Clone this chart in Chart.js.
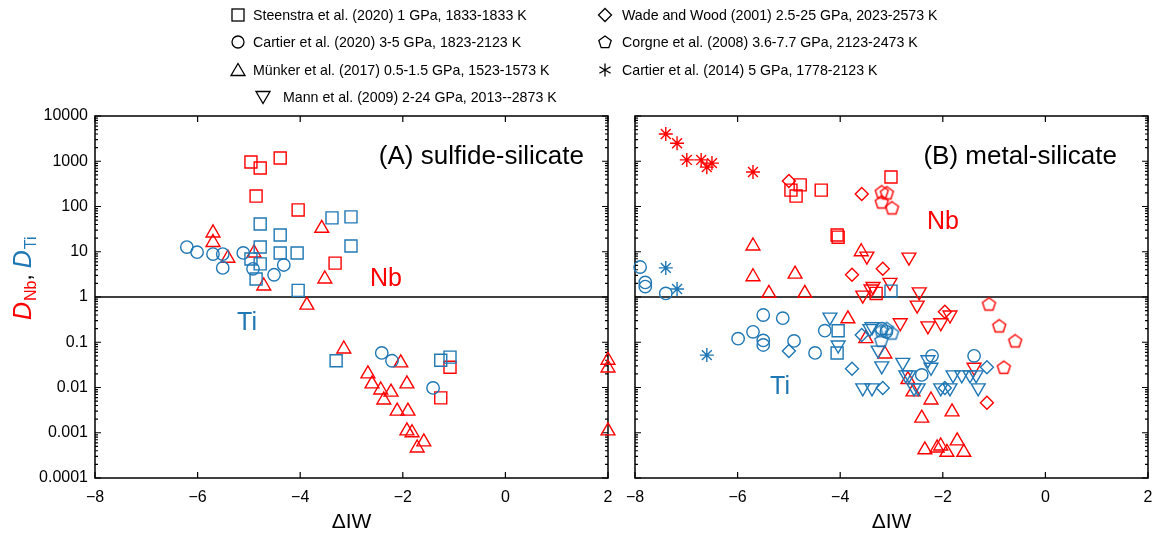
<!DOCTYPE html>
<html>
<head>
<meta charset="utf-8">
<script src="https://cdn.jsdelivr.net/npm/chart.js@4"></script>
<style>
  body { margin: 0; background: #fff; font-family: 'Liberation Sans', Arial, sans-serif; }
  #wrap { position: relative; width: 1159px; height: 540px; overflow: hidden; }
  .panel { position: absolute; top: 0; height: 540px; }
  .leg { position: absolute; font-size: 14.2px; line-height: 16px; white-space: nowrap; color: #000; }
  .legmark { position: absolute; }
</style>
</head>
<body>
<div id="wrap">
  <div class="panel" style="left:0;width:620px"><canvas id="left" width="620" height="540"></canvas></div>
  <div class="panel" style="left:620px;width:539px"><canvas id="right" width="539" height="540"></canvas></div>
  <div id="legend"></div>
</div>
<script>
// colours
const RED = '#ff0000'
const BLUE = '#1f77b4'

// axis ticks
const xTicks = [-8, -6, -4, -2, 0, 2]
const xTickLabels = ['\u22128', '\u22126', '\u22124', '\u22122', '0', '2']
const yTicks = [0.0001, 0.001, 0.01, 0.1, 1, 10, 100, 1000, 10000]
const yTickLabels = ['0.0001', '0.001', '0.01', '0.1', '1', '10', '100', '1000', '10000']

// legend
const legendLabels = [
  'Steenstra et al. (2020) 1 GPa, 1833-1833 K',
  'Cartier et al. (2020) 3-5 GPa, 1823-2123 K',
  'M\u00fcnker et al. (2017) 0.5-1.5 GPa, 1523-1573 K',
  'Mann et al. (2009) 2-24 GPa, 2013--2873 K',
  'Wade and Wood (2001) 2.5-25 GPa, 2023-2573 K',
  'Corgne et al. (2008) 3.6-7.7 GPa, 2123-2473 K',
  'Cartier et al. (2014) 5 GPa, 1778-2123 K',
]
const legendShapes = ['square', 'circle', 'triangle', 'down', 'diamond', 'pentagon', 'star']

// (A) sulfide-silicate  [ΔIW, D]
const aSteenstraNb = [[-4.96, 960], [-4.78, 710], [-4.39, 1180], [-4.86, 170], [-4.04, 84], [-3.32, 5.6], [-1.08, 0.028], [-1.26, 0.0059]]
const aSteenstraTi = [[-4.78, 41], [-4.39, 23.5], [-3.38, 56], [-3.01, 59], [-4.78, 12.7], [-4.39, 9.4], [-4.06, 9.4], [-3.01, 13.4],
  [-4.96, 6.9], [-4.78, 5.4], [-4.86, 2.5], [-4.04, 1.4], [-3.30, 0.039], [-1.26, 0.04], [-1.08, 0.047]]
const aCartierTi = [[-6.21, 12.7], [-6.01, 9.8], [-5.70, 8.9], [-5.51, 8.9], [-5.51, 4.4], [-5.11, 9.4], [-4.92, 4.2], [-4.51, 3.1],
  [-4.32, 5.1], [-2.41, 0.058], [-2.21, 0.039], [-1.41, 0.0098]]
const aMunkerNb = [[-5.70, 26], [-5.70, 16], [-5.41, 7.2], [-4.90, 9.4], [-4.71, 1.75], [-3.58, 33], [-3.52, 2.5], [-3.87, 0.66],
  [-3.15, 0.071], [-2.68, 0.020], [-2.60, 0.012], [-2.43, 0.0088], [-2.23, 0.0079], [-2.37, 0.0053], [-2.04, 0.035], [-1.92, 0.012],
  [-2.11, 0.003], [-1.90, 0.003], [-1.92, 0.0011], [-1.82, 0.001], [-1.59, 0.00063], [-1.72, 0.00046], [2.0, 0.04], [2.0, 0.027], [2.0, 0.0011]]

// (B) metal-silicate
const bCartier14Nb = [[-7.40, 4000], [-7.18, 2500], [-6.99, 1070], [-6.71, 1070], [-6.60, 740], [-6.50, 910], [-5.70, 580]]
const bCartier14Ti = [[-7.40, 4.4], [-7.18, 1.5], [-6.60, 0.052]]
const bSteenstraNb = [[-4.78, 300], [-4.96, 230], [-4.86, 170], [-4.37, 230], [-4.06, 23.5], [-4.04, 21], [-3.30, 1.2], [-3.01, 450]]
const bSteenstraTi = [[-3.01, 1.35], [-4.04, 0.18], [-4.06, 0.058]]
const bWadeNb = [[-5.0, 365], [-3.58, 190], [-3.77, 3.1], [-3.17, 4.2], [-1.96, 0.47], [-1.14, 0.0046]]
const bWadeTi = [[-5.0, 0.064], [-3.77, 0.026], [-3.58, 0.145], [-3.17, 0.0098], [-1.96, 0.0098], [-1.14, 0.028]]
const bCorgneNb = [[-3.19, 210], [-3.09, 200], [-3.19, 126], [-2.99, 93], [-1.10, 0.7], [-0.90, 0.23], [-0.59, 0.107], [-0.81, 0.028]]
const bCorgneTi = [[-3.20, 0.18], [-3.09, 0.2], [-2.99, 0.16], [-3.20, 0.11]]
const bMunkerNb = [[-5.70, 13.4], [-5.70, 2.8], [-4.88, 3.2], [-5.39, 1.2], [-4.69, 1.2], [-3.59, 10], [-3.85, 0.33], [-3.50, 0.12],
  [-3.13, 0.055], [-2.68, 0.015], [-2.58, 0.008], [-2.23, 0.0053], [-1.82, 0.0029], [-2.41, 0.0021], [-2.35, 0.00042], [-2.11, 0.00046],
  [-2.04, 0.00051], [-1.92, 0.00037], [-1.72, 0.00066], [-1.59, 0.00037]]
const bMannNb = [[-3.48, 8], [-3.56, 1.1], [-3.40, 1.5], [-3.36, 1.7], [-2.66, 7.6], [-3.03, 2.1], [-2.46, 1.3], [-2.50, 0.66],
  [-2.83, 0.27], [-2.29, 0.23], [-2.04, 0.27], [-1.86, 0.4], [-1.39, 0.028]]
const bMannTi = [[-4.2, 0.36], [-4.04, 0.087], [-3.38, 0.22], [-3.26, 0.067], [-3.19, 0.03], [-3.56, 0.0098], [-3.38, 0.0098], [-3.42, 0.2],
  [-2.78, 0.036], [-2.72, 0.019], [-2.66, 0.019], [-2.56, 0.0098], [-2.48, 0.0098], [-2.29, 0.041], [-2.23, 0.028], [-2.04, 0.0098],
  [-1.86, 0.0098], [-1.80, 0.019], [-1.63, 0.019], [-1.47, 0.019], [-1.35, 0.019], [-1.31, 0.0098]]
const bCartierTi = [[-7.90, 4.6], [-7.80, 2.1], [-7.80, 1.7], [-7.40, 1.2], [-5.5, 0.4], [-5.12, 0.34], [-5.70, 0.17], [-5.99, 0.12],
  [-5.5, 0.11], [-5.5, 0.087], [-4.90, 0.107], [-4.49, 0.058], [-4.30, 0.18], [-3.19, 0.2], [-3.10, 0.17], [-2.21, 0.05], [-1.39, 0.05], [-2.41, 0.019]]

Chart.defaults.font.family = "'Liberation Sans', Arial, sans-serif"
Chart.defaults.color = '#000'

// pentagon marker as a small canvas
function pentagon(color) {
  const c = document.createElement('canvas')
  c.width = 17
  c.height = 17
  const ctx = c.getContext('2d')
  ctx.strokeStyle = color
  ctx.lineWidth = 1.4
  ctx.beginPath()
  for (let i = 0; i < 5; i++) {
    const a = -Math.PI / 2 + i * 2 * Math.PI / 5
    const px = 8.5 + 6.8 * Math.cos(a)
    const py = 9 + 6.8 * Math.sin(a)
    i ? ctx.lineTo(px, py) : ctx.moveTo(px, py)
  }
  ctx.closePath()
  ctx.stroke()
  return c
}

const styles = {
  square: { pointStyle: 'rect', radius: 8.5 },
  circle: { pointStyle: 'circle', radius: 6.2 },
  triangle: { pointStyle: 'triangle', radius: 8 },
  down: { pointStyle: 'triangle', radius: 8, rotation: 180 },
  diamond: { pointStyle: 'rectRot', radius: 6.5 },
  star: { pointStyle: 'star', radius: 7 },
}

function ds(pairs, shape, color) {
  const s = styles[shape] || {}
  return {
    data: pairs.map((p) => ({ x: p[0], y: p[1] })),
    pointStyle: shape === 'pentagon' ? pentagon(color) : s.pointStyle,
    pointRadius: s.radius || 7,
    rotation: s.rotation || 0,
    pointBorderColor: color,
    pointBackgroundColor: 'rgba(0,0,0,0)',
    pointBorderWidth: 1.4,
    showLine: false,
    clip: false,
  }
}

// frame, inward ticks and the D = 1 line
const framePlugin = {
  id: 'frame',
  beforeDatasetsDraw(chart) {
    const { ctx, chartArea: a, scales: { x, y } } = chart
    ctx.save()
    ctx.strokeStyle = '#000'
    ctx.lineWidth = 1.5
    ctx.strokeRect(a.left, a.top, a.right - a.left, a.bottom - a.top)
    const y1 = y.getPixelForValue(1)
    ctx.beginPath()
    ctx.moveTo(a.left, y1)
    ctx.lineTo(a.right, y1)
    ctx.stroke()
    ctx.lineWidth = 1.2
    ctx.beginPath()
    xTicks.forEach((v) => {
      const px = x.getPixelForValue(v)
      ctx.moveTo(px, a.bottom)
      ctx.lineTo(px, a.bottom - 6)
      ctx.moveTo(px, a.top)
      ctx.lineTo(px, a.top + 6)
    })
    yTicks.forEach((v, i) => {
      const py = y.getPixelForValue(v)
      ctx.moveTo(a.left, py)
      ctx.lineTo(a.left + 6, py)
      ctx.moveTo(a.right, py)
      ctx.lineTo(a.right - 6, py)
      if (i < yTicks.length - 1) {
        for (let k = 2; k < 10; k++) {
          const pm = y.getPixelForValue(v * k)
          ctx.moveTo(a.left, pm)
          ctx.lineTo(a.left + 3, pm)
          ctx.moveTo(a.right, pm)
          ctx.lineTo(a.right - 3, pm)
        }
      }
    })
    ctx.stroke()
    ctx.restore()
  },
}

// panel labels, offset = canvas left on page
function labelsPlugin(offset, texts) {
  return {
    id: 'labels',
    afterDraw(chart) {
      const ctx = chart.ctx
      ctx.save()
      texts.forEach((t) => {
        ctx.font = t.font
        ctx.fillStyle = t.color
        ctx.textAlign = t.align || 'center'
        ctx.textBaseline = 'middle'
        ctx.fillText(t.text, t.x - offset, t.y)
      })
      ctx.restore()
    },
  }
}

// y title: D_Nb, D_Ti
const yTitlePlugin = {
  id: 'ytitle',
  afterDraw(chart) {
    const ctx = chart.ctx
    ctx.save()
    ctx.translate(31, 320)
    ctx.rotate(-Math.PI / 2)
    ctx.textBaseline = 'alphabetic'
    ctx.textAlign = 'left'
    let cx = 0
    const parts = [
      { t: 'D', f: "italic 25px 'Liberation Sans', Arial", c: RED, dy: 0 },
      { t: 'Nb', f: "16px 'Liberation Sans', Arial", c: RED, dy: 5 },
      { t: ', ', f: "22px 'Liberation Sans', Arial", c: '#000', dy: 0 },
      { t: 'D', f: "italic 25px 'Liberation Sans', Arial", c: BLUE, dy: 0 },
      { t: 'Ti', f: "16px 'Liberation Sans', Arial", c: BLUE, dy: 5 },
    ]
    parts.forEach((p) => {
      ctx.font = p.f
      ctx.fillStyle = p.c
      ctx.fillText(p.t, cx, p.dy)
      cx += ctx.measureText(p.t).width + (p.t === 'D' ? 1 : 0)
    })
    ctx.restore()
  },
}

function makePanel(id, datasets, yWidth, padRight, showY, plugins) {
  return new Chart(document.getElementById(id), {
    type: 'scatter',
    data: { datasets },
    options: {
      responsive: false,
      animation: false,
      layout: { padding: { top: 116, right: padRight, bottom: 0, left: 0 } },
      plugins: { legend: { display: false }, tooltip: { enabled: false } },
      scales: {
        x: {
          type: 'linear',
          min: -8,
          max: 2,
          afterBuildTicks: (s) => { s.ticks = xTicks.map((v) => ({ value: v })) },
          afterFit: (s) => {
            s.height = 62
            s.paddingLeft = 0
            s.paddingRight = 0
          },
          ticks: {
            font: { size: 16 },
            padding: 10,
            maxRotation: 0,
            callback: (v) => xTickLabels[xTicks.indexOf(v)],
          },
          grid: { display: false, drawTicks: false },
          border: { display: false },
          title: { display: true, text: '\u0394IW', font: { size: 21 }, padding: { top: 0, bottom: 5 } },
        },
        y: {
          type: 'logarithmic',
          min: 0.0001,
          max: 10000,
          afterBuildTicks: (s) => { s.ticks = yTicks.map((v) => ({ value: v })) },
          afterFit: (s) => {
            s.width = yWidth
            s.paddingTop = 0
            s.paddingBottom = 0
          },
          ticks: {
            display: showY,
            font: { size: 16 },
            padding: 7,
            callback: (v) => yTickLabels[yTicks.indexOf(v)],
          },
          grid: { display: false, drawTicks: false },
          border: { display: false },
        },
      },
    },
    plugins,
  })
}

makePanel('left', [
  ds(aCartierTi, 'circle', BLUE),
  ds(aSteenstraTi, 'square', BLUE),
  ds(aSteenstraNb, 'square', RED),
  ds(aMunkerNb, 'triangle', RED),
], 95, 12, true, [framePlugin, yTitlePlugin, labelsPlugin(0, [
  { text: '(A) sulfide-silicate', x: 584, y: 157, font: "26px 'Liberation Sans', Arial", color: '#000', align: 'right' },
  { text: 'Nb', x: 386, y: 279, font: "25px 'Liberation Sans', Arial", color: RED },
  { text: 'Ti', x: 247, y: 323, font: "25px 'Liberation Sans', Arial", color: BLUE },
])])

makePanel('right', [
  ds(bCartierTi, 'circle', BLUE),
  ds(bCartier14Ti, 'star', BLUE),
  ds(bSteenstraTi, 'square', BLUE),
  ds(bWadeTi, 'diamond', BLUE),
  ds(bCorgneTi, 'pentagon', BLUE),
  ds(bMannTi, 'down', BLUE),
  ds(bCartier14Nb, 'star', RED),
  ds(bSteenstraNb, 'square', RED),
  ds(bWadeNb, 'diamond', RED),
  ds(bCorgneNb, 'pentagon', RED),
  ds(bMannNb, 'down', RED),
  ds(bMunkerNb, 'triangle', RED),
], 15, 11, false, [framePlugin, labelsPlugin(620, [
  { text: '(B) metal-silicate', x: 1117, y: 157, font: "26px 'Liberation Sans', Arial", color: '#000', align: 'right' },
  { text: 'Nb', x: 943, y: 222, font: "25px 'Liberation Sans', Arial", color: RED },
  { text: 'Ti', x: 780, y: 387, font: "25px 'Liberation Sans', Arial", color: BLUE },
])])

// legend (html text + svg markers)
function markerSvg(shape) {
  const st = 'fill="none" stroke="#000" stroke-width="1.3"'
  const shapes = {
    square: `<rect x="2" y="2" width="12" height="12" ${st}/>`,
    circle: `<circle cx="8" cy="8" r="6" ${st}/>`,
    triangle: `<polygon points="8,1.5 15,13.5 1,13.5" ${st}/>`,
    down: `<polygon points="1,2.5 15,2.5 8,14.5" ${st}/>`,
    diamond: `<polygon points="8,1.5 14.5,8 8,14.5 1.5,8" ${st}/>`,
    pentagon: `<polygon points="8,2 14.2,6.5 11.8,13.7 4.2,13.7 1.8,6.5" ${st}/>`,
    star: `<path d="M8,1.5V14.5M2.4,4.8L13.6,11.2M2.4,11.2L13.6,4.8" ${st}/>`,
  }
  return `<svg width="16" height="16" viewBox="0 0 16 16">${shapes[shape]}</svg>`
}
const legendPos = [[238, 253, 15], [238, 253, 42], [238, 253, 70], [263, 283, 97], [605, 622, 15], [605, 622, 42], [605, 622, 70]]
const legendEl = document.getElementById('legend')
legendLabels.forEach((label, i) => {
  const [mx, tx, cy] = legendPos[i]
  const m = document.createElement('div')
  m.className = 'legmark'
  m.style.left = mx - 8 + 'px'
  m.style.top = cy - 8 + 'px'
  m.innerHTML = markerSvg(legendShapes[i])
  legendEl.appendChild(m)
  const t = document.createElement('div')
  t.className = 'leg'
  t.style.left = tx + 'px'
  t.style.top = cy - 8 + 'px'
  t.textContent = label
  legendEl.appendChild(t)
})
</script>
</body>
</html>
